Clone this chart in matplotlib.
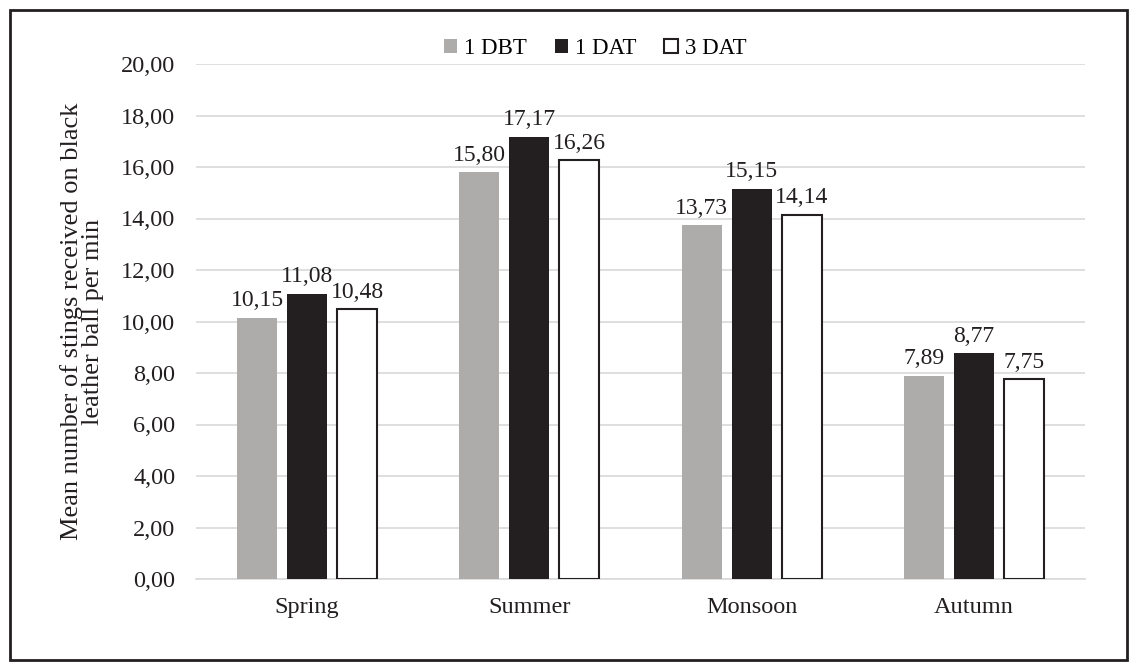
import numpy as np
import matplotlib
matplotlib.use("Agg")
import matplotlib.pyplot as plt
from matplotlib.patches import Rectangle

# Datos
temporadas = ["Spring", "Summer", "Monsoon", "Autumn"]
series = ["1 DBT", "1 DAT", "3 DAT"]
dbt_1 = [10.15, 15.80, 13.73, 7.89]
dat_1 = [11.08, 17.17, 15.15, 8.77]
dat_3 = [10.48, 16.26, 14.14, 7.75]

plt.rcParams['font.family'] = ['Liberation Serif', 'DejaVu Serif']


def fmt(v):
    return f"{v:.2f}".replace(".", ",")


fig = plt.figure(figsize=(11.37, 6.70), dpi=100)
ax = fig.add_axes([196 / 1137, 1 - 579 / 670, 889 / 1137, 515 / 670])

x = np.arange(len(temporadas))
ancho = 0.18
paso = 0.225
estilos = [
    dict(color="#aeabab", edgecolor="none"),
    dict(color="#231f20", edgecolor="none"),
    dict(color="white", edgecolor="#231f20", linewidth=1.5),
]
for i, (vals, nombre, est) in enumerate(zip([dbt_1, dat_1, dat_3], series, estilos)):
    barras = ax.bar(x + (i - 1) * paso, vals, ancho, label=nombre, zorder=3, **est)
    for b, v in zip(barras, vals):
        ax.text(b.get_x() + b.get_width() / 2, v + 0.25, fmt(v),
                ha="center", va="bottom", fontsize=17, color="#231f20")

ax.set_xlim(-0.5, 3.5)
ax.set_ylim(0, 20)
ax.set_yticks(np.arange(0, 21, 2))
ax.set_yticklabels([fmt(v) for v in np.arange(0, 21, 2)])
ax.set_xticks(x)
ax.set_xticklabels(temporadas)
ax.tick_params(axis="both", length=0, labelsize=17.5, colors="#231f20")
ax.tick_params(axis="y", pad=15)
ax.tick_params(axis="x", pad=13)
ax.grid(axis="y", color="#d9d9d9", linewidth=1.2, zorder=0)
for s in ["top", "right", "left"]:
    ax.spines[s].set_visible(False)
ax.spines["bottom"].set_color("#d9d9d9")
ax.spines["bottom"].set_linewidth(1.2)

ax.set_ylabel("Mean number of stings received on black\nleather ball per min",
              fontsize=19, color="#231f20", labelpad=12, linespacing=0.95)

ax.legend(loc="upper center", bbox_to_anchor=(0.449, 1.068), ncol=3, frameon=False,
          fontsize=16.5, handlelength=0.6, handleheight=0.6, handletextpad=0.3,
          columnspacing=1.2, borderaxespad=0)

fig.patches.append(Rectangle((10 / 1137, 10 / 670), 1117 / 1137, 650 / 670,
                             transform=fig.transFigure, fill=False,
                             edgecolor="#231f20", linewidth=2))

fig.savefig("out.png", dpi=100)
